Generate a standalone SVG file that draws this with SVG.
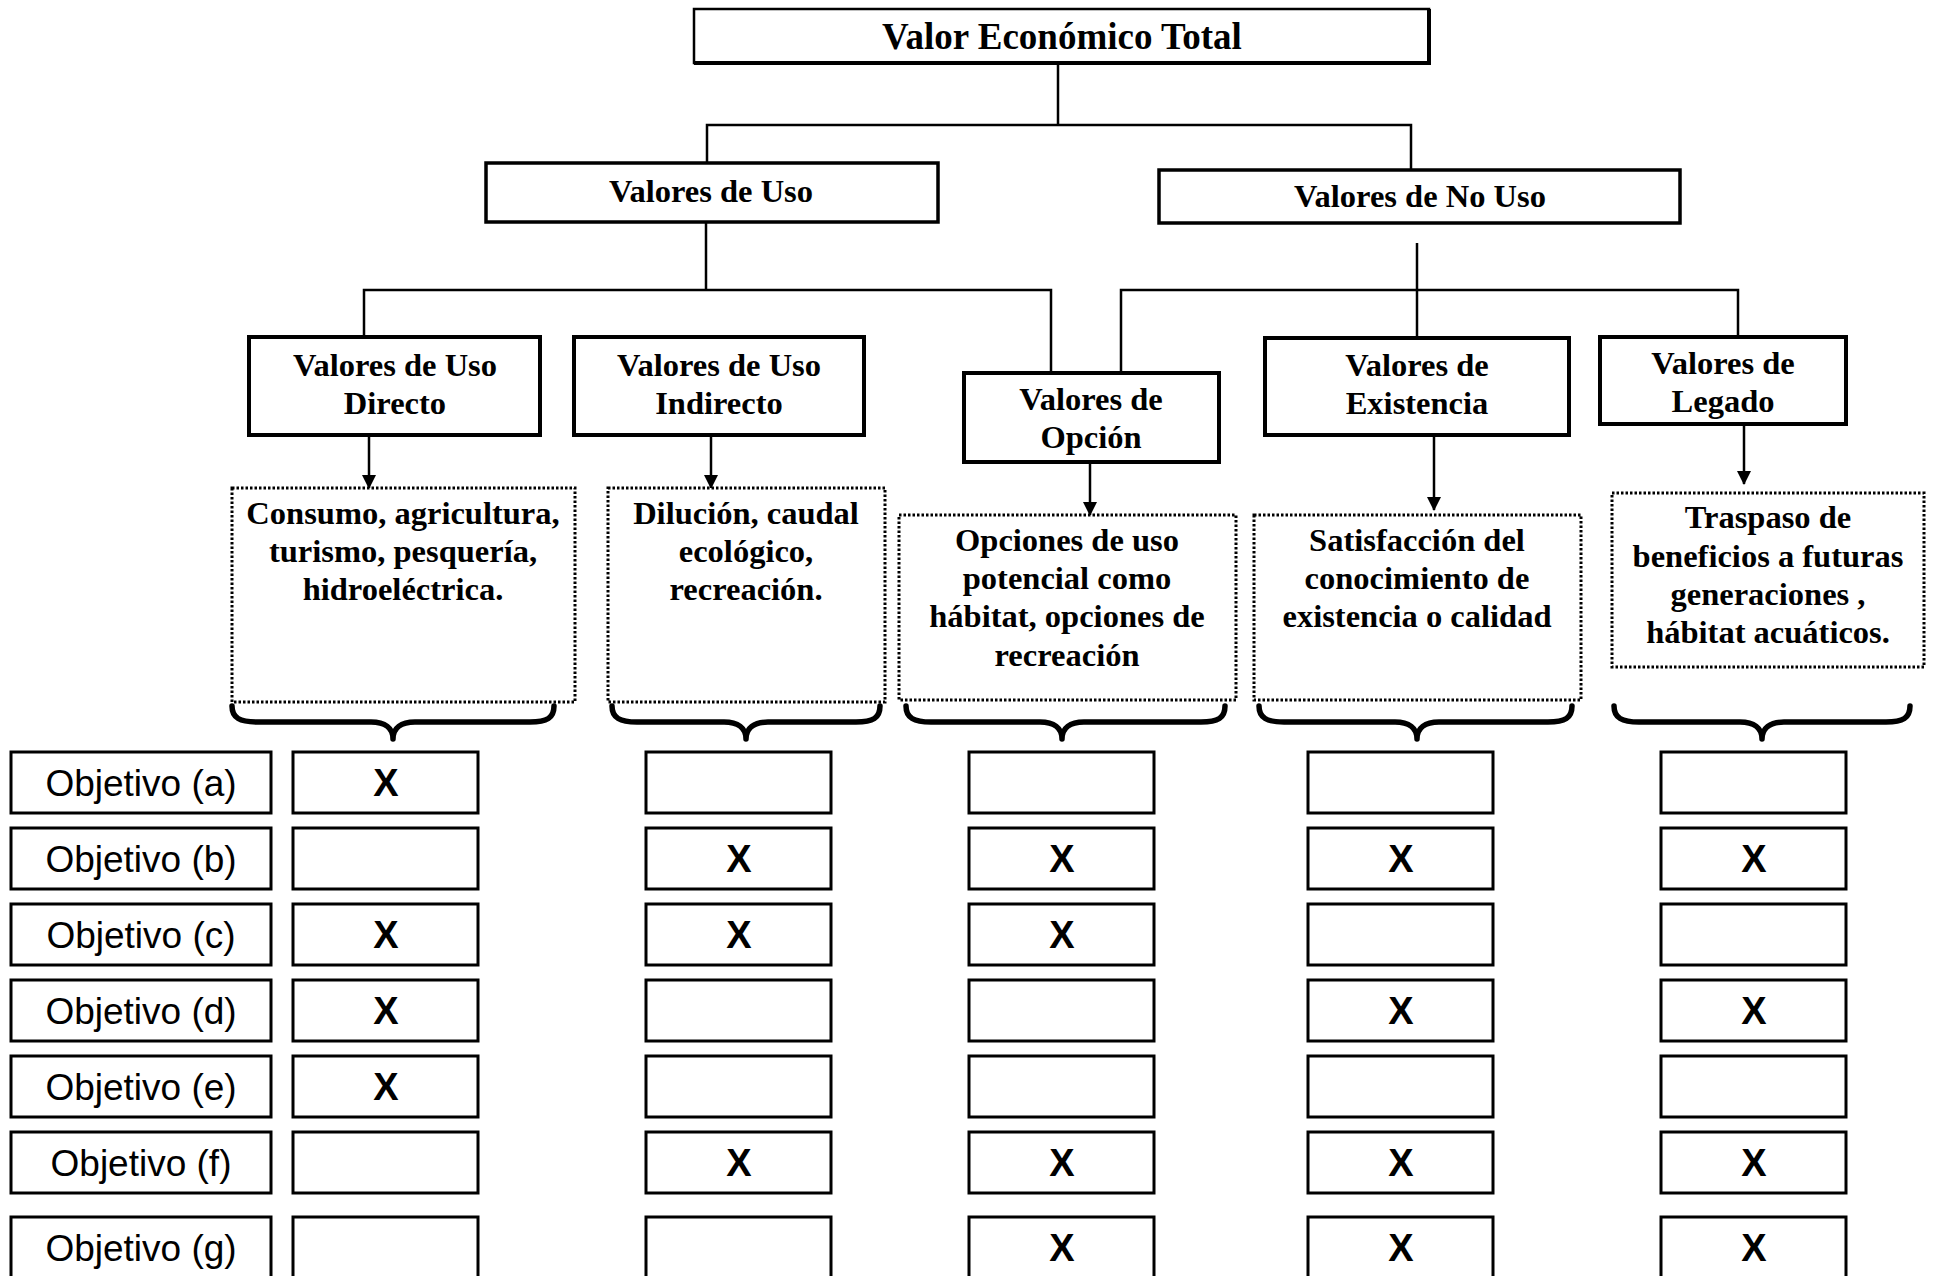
<svg xmlns="http://www.w3.org/2000/svg" width="1936" height="1276" viewBox="0 0 1936 1276">
<defs>
<marker id="ah" markerUnits="userSpaceOnUse" markerWidth="14" markerHeight="16" refX="13" refY="7" orient="auto">
<path d="M0,0 L14,7 L0,14 Z" fill="#000"/>
</marker>
</defs>
<style>
.bx{fill:#fff;stroke:#000;stroke-width:3.5}
.dot{fill:#fff;stroke:#000;stroke-width:3;stroke-dasharray:2.5 2}
.cell{fill:#fff;stroke:#000;stroke-width:3}
.ln{fill:none;stroke:#000;stroke-width:2.5}
.arr{fill:none;stroke:#000;stroke-width:2.5;marker-end:url(#ah)}
.br{fill:none;stroke:#000;stroke-width:5.5;stroke-linecap:round;stroke-linejoin:round}
.t{font-family:"Liberation Serif","Times New Roman",serif;font-weight:bold;font-size:32.5px;text-anchor:middle;fill:#000}
.tt{font-size:37px}
.lab{font-family:"Liberation Sans",Arial,sans-serif;font-size:37px;text-anchor:middle;fill:#000}
.x{font-family:"Liberation Sans",Arial,sans-serif;font-weight:bold;font-size:38px;text-anchor:middle;fill:#000}
</style>
<rect width="1936" height="1276" fill="#fff"/>

<g id="connectors">
<polyline class="ln" points="1058,63 1058,125"/>
<polyline class="ln" points="707,163 707,125 1411,125 1411,170"/>
<polyline class="ln" points="706,222 706,290"/>
<polyline class="ln" points="364,337 364,290 1051,290 1051,373"/>
<polyline class="ln" points="1417,243 1417,337"/>
<polyline class="ln" points="1121,373 1121,290 1738,290 1738,337"/>
<line class="arr" x1="369" y1="436" x2="369" y2="488"/>
<line class="arr" x1="711" y1="436" x2="711" y2="488"/>
<line class="arr" x1="1090" y1="463" x2="1090" y2="515"/>
<line class="arr" x1="1434" y1="437" x2="1434" y2="510"/>
<line class="arr" x1="1744" y1="425" x2="1744" y2="484"/>
</g>

<g id="n-total">
<rect class="bx" x="694" y="9" width="735" height="54" style="stroke-width:2.5"/>
<polyline class="ln" points="694,63 1429,63 1429,9" style="stroke-width:4"/>
<text class="t tt" x="1062" y="49">Valor Económico Total</text>
</g>
<g id="n-uso">
<rect class="bx" x="486" y="163" width="452" height="59"/>
<text class="t" x="711" y="202">Valores de Uso</text>
</g>
<g id="n-nouso">
<rect class="bx" x="1159" y="170" width="521" height="53"/>
<text class="t" x="1420" y="207">Valores de No Uso</text>
</g>

<g id="n-directo">
<rect class="bx" x="249" y="337" width="291" height="98" style="stroke-width:4"/>
<text class="t" x="395" y="376">Valores de Uso</text>
<text class="t" x="395" y="414">Directo</text>
</g>
<g id="n-indirecto">
<rect class="bx" x="574" y="337" width="290" height="98" style="stroke-width:4"/>
<text class="t" x="719" y="376">Valores de Uso</text>
<text class="t" x="719" y="414">Indirecto</text>
</g>
<g id="n-opcion">
<rect class="bx" x="964" y="373" width="255" height="89" style="stroke-width:4"/>
<text class="t" x="1091" y="410">Valores de</text>
<text class="t" x="1091" y="448">Opción</text>
</g>
<g id="n-existencia">
<rect class="bx" x="1265" y="338" width="304" height="97" style="stroke-width:4"/>
<text class="t" x="1417" y="376">Valores de</text>
<text class="t" x="1417" y="414">Existencia</text>
</g>
<g id="n-legado">
<rect class="bx" x="1600" y="337" width="246" height="87" style="stroke-width:4"/>
<text class="t" x="1723" y="374">Valores de</text>
<text class="t" x="1723" y="412">Legado</text>
</g>

<g id="d-directo">
<rect class="dot" x="232" y="488" width="343" height="214"/>
<text class="t" x="403" y="524">Consumo, agricultura,</text>
<text class="t" x="403" y="562">turismo, pesquería,</text>
<text class="t" x="403" y="600">hidroeléctrica.</text>
</g>
<g id="d-indirecto">
<rect class="dot" x="608" y="488" width="277" height="214"/>
<text class="t" x="746" y="524">Dilución, caudal</text>
<text class="t" x="746" y="562">ecológico,</text>
<text class="t" x="746" y="600">recreación.</text>
</g>
<g id="d-opcion">
<rect class="dot" x="899" y="515" width="337" height="185"/>
<text class="t" x="1067" y="551">Opciones de uso</text>
<text class="t" x="1067" y="589">potencial como</text>
<text class="t" x="1067" y="627">hábitat, opciones de</text>
<text class="t" x="1067" y="666">recreación</text>
</g>
<g id="d-existencia">
<rect class="dot" x="1254" y="515" width="327" height="185"/>
<text class="t" x="1417" y="551">Satisfacción del</text>
<text class="t" x="1417" y="589">conocimiento de</text>
<text class="t" x="1417" y="627">existencia o calidad</text>
</g>
<g id="d-legado">
<rect class="dot" x="1612" y="493" width="312" height="174"/>
<text class="t" x="1768" y="528">Traspaso de</text>
<text class="t" x="1768" y="567">beneficios a futuras</text>
<text class="t" x="1768" y="605">generaciones ,</text>
<text class="t" x="1768" y="643">hábitat acuáticos.</text>
</g>

<g id="braces">
<path class="br" d="M232,706 C232,718 240,722 257,722 L371,722 C385,722 393,728 393,739 C393,728 401,722 415,722 L530,722 C547,722 554,718 554,706"/>
<path class="br" d="M612,706 C612,718 620,722 637,722 L724,722 C738,722 746,728 746,739 C746,728 754,722 768,722 L856,722 C873,722 880,718 880,706"/>
<path class="br" d="M906,706 C906,718 914,722 931,722 L1040,722 C1054,722 1062,728 1062,739 C1062,728 1070,722 1084,722 L1201,722 C1218,722 1225,718 1225,706"/>
<path class="br" d="M1259,706 C1259,718 1267,722 1284,722 L1395,722 C1409,722 1417,728 1417,739 C1417,728 1425,722 1439,722 L1548,722 C1565,722 1572,718 1572,706"/>
<path class="br" d="M1614,706 C1614,718 1622,722 1639,722 L1740,722 C1754,722 1762,728 1762,739 C1762,728 1770,722 1784,722 L1886,722 C1903,722 1910,718 1910,706"/>
</g>

<g id="row-a">
<rect class="cell" x="11" y="752" width="260" height="61"/><text class="lab" x="141" y="796">Objetivo (a)</text>
<rect class="cell" x="293" y="752" width="185" height="61"/><text class="x" x="386" y="796">X</text>
<rect class="cell" x="646" y="752" width="185" height="61"/>
<rect class="cell" x="969" y="752" width="185" height="61"/>
<rect class="cell" x="1308" y="752" width="185" height="61"/>
<rect class="cell" x="1661" y="752" width="185" height="61"/>
</g>
<g id="row-b">
<rect class="cell" x="11" y="828" width="260" height="61"/><text class="lab" x="141" y="872">Objetivo (b)</text>
<rect class="cell" x="293" y="828" width="185" height="61"/>
<rect class="cell" x="646" y="828" width="185" height="61"/><text class="x" x="739" y="872">X</text>
<rect class="cell" x="969" y="828" width="185" height="61"/><text class="x" x="1062" y="872">X</text>
<rect class="cell" x="1308" y="828" width="185" height="61"/><text class="x" x="1401" y="872">X</text>
<rect class="cell" x="1661" y="828" width="185" height="61"/><text class="x" x="1754" y="872">X</text>
</g>
<g id="row-c">
<rect class="cell" x="11" y="904" width="260" height="61"/><text class="lab" x="141" y="948">Objetivo (c)</text>
<rect class="cell" x="293" y="904" width="185" height="61"/><text class="x" x="386" y="948">X</text>
<rect class="cell" x="646" y="904" width="185" height="61"/><text class="x" x="739" y="948">X</text>
<rect class="cell" x="969" y="904" width="185" height="61"/><text class="x" x="1062" y="948">X</text>
<rect class="cell" x="1308" y="904" width="185" height="61"/>
<rect class="cell" x="1661" y="904" width="185" height="61"/>
</g>
<g id="row-d">
<rect class="cell" x="11" y="980" width="260" height="61"/><text class="lab" x="141" y="1024">Objetivo (d)</text>
<rect class="cell" x="293" y="980" width="185" height="61"/><text class="x" x="386" y="1024">X</text>
<rect class="cell" x="646" y="980" width="185" height="61"/>
<rect class="cell" x="969" y="980" width="185" height="61"/>
<rect class="cell" x="1308" y="980" width="185" height="61"/><text class="x" x="1401" y="1024">X</text>
<rect class="cell" x="1661" y="980" width="185" height="61"/><text class="x" x="1754" y="1024">X</text>
</g>
<g id="row-e">
<rect class="cell" x="11" y="1056" width="260" height="61"/><text class="lab" x="141" y="1100">Objetivo (e)</text>
<rect class="cell" x="293" y="1056" width="185" height="61"/><text class="x" x="386" y="1100">X</text>
<rect class="cell" x="646" y="1056" width="185" height="61"/>
<rect class="cell" x="969" y="1056" width="185" height="61"/>
<rect class="cell" x="1308" y="1056" width="185" height="61"/>
<rect class="cell" x="1661" y="1056" width="185" height="61"/>
</g>
<g id="row-f">
<rect class="cell" x="11" y="1132" width="260" height="61"/><text class="lab" x="141" y="1176">Objetivo (f)</text>
<rect class="cell" x="293" y="1132" width="185" height="61"/>
<rect class="cell" x="646" y="1132" width="185" height="61"/><text class="x" x="739" y="1176">X</text>
<rect class="cell" x="969" y="1132" width="185" height="61"/><text class="x" x="1062" y="1176">X</text>
<rect class="cell" x="1308" y="1132" width="185" height="61"/><text class="x" x="1401" y="1176">X</text>
<rect class="cell" x="1661" y="1132" width="185" height="61"/><text class="x" x="1754" y="1176">X</text>
</g>
<g id="row-g">
<rect class="cell" x="11" y="1217" width="260" height="90"/><text class="lab" x="141" y="1261">Objetivo (g)</text>
<rect class="cell" x="293" y="1217" width="185" height="90"/>
<rect class="cell" x="646" y="1217" width="185" height="90"/>
<rect class="cell" x="969" y="1217" width="185" height="90"/><text class="x" x="1062" y="1261">X</text>
<rect class="cell" x="1308" y="1217" width="185" height="90"/><text class="x" x="1401" y="1261">X</text>
<rect class="cell" x="1661" y="1217" width="185" height="90"/><text class="x" x="1754" y="1261">X</text>
</g>
</svg>
